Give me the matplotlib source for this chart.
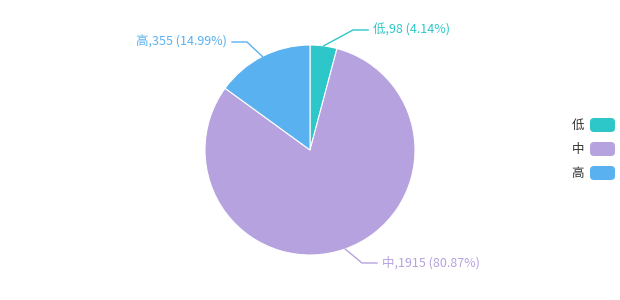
import matplotlib
matplotlib.use("Agg")
import matplotlib.pyplot as plt
from matplotlib.patches import FancyBboxPatch

plt.rcParams['font.family'] = ['Noto Sans CJK SC', 'DejaVu Sans']

# data
names = ['低', '中', '高']
values = [98, 1915, 355]
colors = ['#2ec7c9', '#b6a2de', '#5ab1ef']

W, H = 620, 300
fig = plt.figure(figsize=(W / 100, H / 100), dpi=100)
ax = fig.add_axes([0, 0, 1, 1])
ax.set_xlim(0, W)
ax.set_ylim(0, H)
ax.set_aspect('equal')
ax.axis('off')

cx, cy, r = 310, 150, 105
wedges, _ = ax.pie(values, colors=colors, startangle=90, counterclock=False,
                   center=(cx, cy), radius=r, frame=True,
                   wedgeprops=dict(edgecolor='white', linewidth=0.8))
ax.set_xlim(0, W)
ax.set_ylim(0, H)
ax.axis('off')

total = sum(values)
# leader line elbows / text anchors (pixel coords, y from top)
elbow = [(353, 30), (362, 263), (247, 42)]
ends = [(368, 30), (377, 263), (232, 42)]
for w, n, v, c, e, t in zip(wedges, names, values, colors, elbow, ends):
    import numpy as np
    ang = np.deg2rad((w.theta1 + w.theta2) / 2)
    px, py = cx + r * np.cos(ang), cy + r * np.sin(ang)
    ax.plot([px, e[0], t[0]], [py, H - e[1], H - t[1]], color=c, lw=1)
    right = t[0] > e[0]
    ax.text(t[0] + (5 if right else -5), H - t[1],
            f'{n},{v} ({v / total * 100:.2f}%)', color=c, fontsize=9,
            ha='left' if right else 'right', va='center')

# legend
for i, (n, c) in enumerate(zip(names, colors)):
    y = H - (125 + 24 * i)
    ax.add_patch(FancyBboxPatch((590, y - 7), 25, 14,
                                boxstyle='round,pad=0,rounding_size=4',
                                facecolor=c, edgecolor='none'))
    ax.text(584, y, n, fontsize=9, color='#333333', ha='right', va='center')

fig.savefig('out.png', dpi=100)
